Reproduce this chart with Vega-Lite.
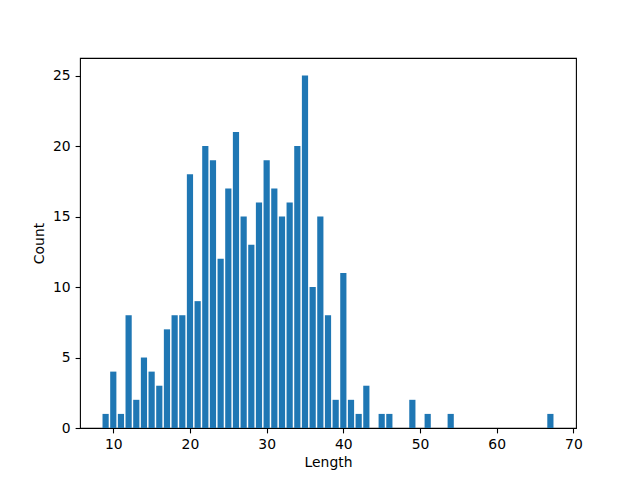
{
  "$schema": "https://vega.github.io/schema/vega-lite/v6.json",
  "width": 496,
  "height": 370,
  "autosize": {"type": "none"},
  "padding": {"left": 80, "top": 58, "right": 64, "bottom": 52},
  "background": "white",
  "config": {
    "view": {"stroke": "black", "strokeWidth": 1.1},
    "axis": {
      "grid": false,
      "domain": false,
      "tickColor": "black",
      "tickSize": 4.9,
      "tickWidth": 1.1,
      "labelFont": "DejaVu Sans",
      "labelFontSize": 13.9,
      "labelColor": "black",
      "labelPadding": 4.9,
      "titleFont": "DejaVu Sans",
      "titleFontSize": 13.9,
      "titleFontWeight": "normal",
      "titleColor": "black"
    }
  },
  "data": {
    "values": [
      {"Length": 9, "Count": 1},
      {"Length": 10, "Count": 4},
      {"Length": 11, "Count": 1},
      {"Length": 12, "Count": 8},
      {"Length": 13, "Count": 2},
      {"Length": 14, "Count": 5},
      {"Length": 15, "Count": 4},
      {"Length": 16, "Count": 3},
      {"Length": 17, "Count": 7},
      {"Length": 18, "Count": 8},
      {"Length": 19, "Count": 8},
      {"Length": 20, "Count": 18},
      {"Length": 21, "Count": 9},
      {"Length": 22, "Count": 20},
      {"Length": 23, "Count": 19},
      {"Length": 24, "Count": 12},
      {"Length": 25, "Count": 17},
      {"Length": 26, "Count": 21},
      {"Length": 27, "Count": 15},
      {"Length": 28, "Count": 13},
      {"Length": 29, "Count": 16},
      {"Length": 30, "Count": 19},
      {"Length": 31, "Count": 17},
      {"Length": 32, "Count": 15},
      {"Length": 33, "Count": 16},
      {"Length": 34, "Count": 20},
      {"Length": 35, "Count": 25},
      {"Length": 36, "Count": 10},
      {"Length": 37, "Count": 15},
      {"Length": 38, "Count": 8},
      {"Length": 39, "Count": 2},
      {"Length": 40, "Count": 11},
      {"Length": 41, "Count": 2},
      {"Length": 42, "Count": 1},
      {"Length": 43, "Count": 3},
      {"Length": 45, "Count": 1},
      {"Length": 46, "Count": 1},
      {"Length": 49, "Count": 2},
      {"Length": 51, "Count": 1},
      {"Length": 54, "Count": 1},
      {"Length": 67, "Count": 1}
    ]
  },
  "mark": {"type": "bar", "color": "#1f77b4", "size": 6.2},
  "encoding": {
    "x": {
      "field": "Length",
      "type": "quantitative",
      "scale": {"domain": [5.66, 70.34], "nice": false, "zero": false, "padding": 0},
      "axis": {"values": [10, 20, 30, 40, 50, 60, 70], "title": "Length", "titlePadding": 4}
    },
    "y": {
      "field": "Count",
      "type": "quantitative",
      "scale": {"domain": [0, 26.25], "nice": false, "padding": 0},
      "axis": {"values": [0, 5, 10, 15, 20, 25], "title": "Count", "titlePadding": 5.6}
    }
  }
}
